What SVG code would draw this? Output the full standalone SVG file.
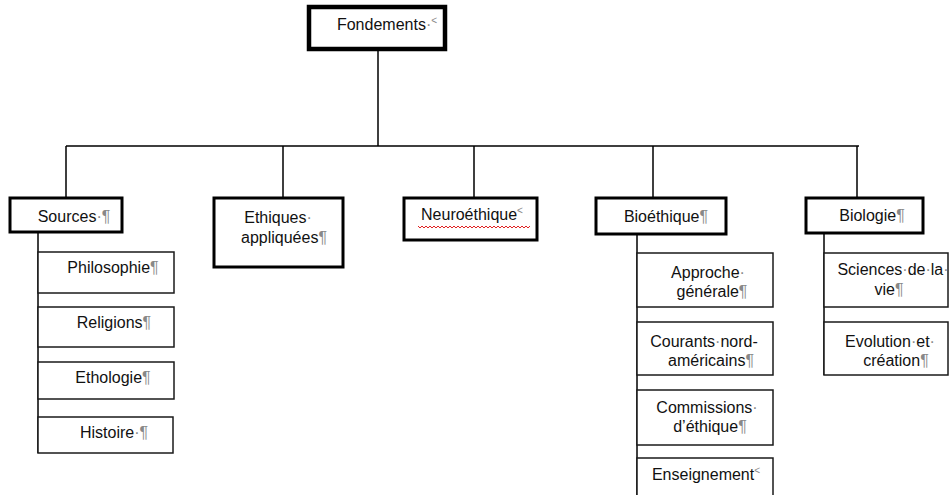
<svg xmlns="http://www.w3.org/2000/svg" width="950" height="495" viewBox="0 0 950 495">
<style>
.bg{fill:#fff}
.top{fill:#fff;stroke:#000;stroke-width:4.5}
.main{fill:#fff;stroke:#000;stroke-width:3}
.sub{fill:#fff;stroke:#1a1a1a;stroke-width:1.5}
.conn{stroke:#000;stroke-width:1.5;fill:none}
text{font-family:"Liberation Sans",Arial,sans-serif;font-size:16px;fill:#111;text-anchor:middle}
.m{fill:#888}
.sm{font-size:10px;fill:#888}
.spell{stroke:#e02020;stroke-width:1;fill:none}
</style>
<rect class="bg" x="0" y="0" width="950" height="495"/>
<g id="connectors">
<path class="conn" d="M378 50V146M66 146H859M66 146V197M283 146V197M474 146V197M653 146V197M857 146V197"/>
<path class="conn" d="M38 233V453"/>
<path class="conn" d="M637 234V495"/>
<path class="conn" d="M824 233V375"/>
</g>
<g id="fondements">
<rect class="top" x="309" y="7" width="136" height="42"/>
<text x="387" y="30">Fondements<tspan class="m">·</tspan><tspan class="sm" dy="-6">&lt;</tspan></text>
</g>
<g id="sources">
<rect class="main" x="10" y="198" width="112" height="34"/>
<text x="74" y="222">Sources<tspan class="m">·¶</tspan></text>
</g>
<g id="philosophie">
<rect class="sub" x="38" y="252" width="136" height="41"/>
<text x="113" y="273">Philosophie<tspan class="m">¶</tspan></text>
</g>
<g id="religions">
<rect class="sub" x="38" y="307" width="136" height="40"/>
<text x="114" y="328">Religions<tspan class="m">¶</tspan></text>
</g>
<g id="ethologie">
<rect class="sub" x="38" y="362" width="136" height="37"/>
<text x="113" y="383">Ethologie<tspan class="m">¶</tspan></text>
</g>
<g id="histoire">
<rect class="sub" x="38" y="417" width="135" height="36"/>
<text x="114" y="438">Histoire<tspan class="m">·¶</tspan></text>
</g>
<g id="ethiques">
<rect class="main" x="214" y="198" width="129" height="69"/>
<text x="278" y="223">Ethiques<tspan class="m">·</tspan></text>
<text x="284" y="243">appliquées<tspan class="m">¶</tspan></text>
</g>
<g id="neuroethique">
<rect class="main" x="404" y="198" width="133" height="42"/>
<text x="472" y="220">Neuroéthique<tspan class="sm" dy="-6">&lt;</tspan></text>
<path class="spell" d="M418 226l2 2l2-2l2 2l2-2l2 2l2-2l2 2l2-2l2 2l2-2l2 2l2-2l2 2l2-2l2 2l2-2l2 2l2-2l2 2l2-2l2 2l2-2l2 2l2-2l2 2l2-2l2 2l2-2l2 2l2-2l2 2l2-2l2 2l2-2l2 2l2-2l2 2l2-2l2 2l2-2l2 2l2-2l2 2l2-2l2 2l2-2l2 2l2-2l2 2l2-2l2 2l2-2l2 2l2-2l2 2l2-2"/>
</g>
<g id="bioethique">
<rect class="main" x="596" y="198" width="130" height="36"/>
<text x="666" y="222">Bioéthique<tspan class="m">¶</tspan></text>
</g>
<g id="approche">
<rect class="sub" x="637" y="253" width="136" height="54"/>
<text x="708" y="278">Approche<tspan class="m">·</tspan></text>
<text x="712" y="297">générale<tspan class="m">¶</tspan></text>
</g>
<g id="courants">
<rect class="sub" x="637" y="322" width="136" height="53"/>
<text x="704" y="347">Courants<tspan class="m">·</tspan>nord-</text>
<text x="711" y="366">américains<tspan class="m">¶</tspan></text>
</g>
<g id="commissions">
<rect class="sub" x="637" y="390" width="136" height="55"/>
<text x="707" y="413">Commissions<tspan class="m">·</tspan></text>
<text x="710" y="432">d’éthique<tspan class="m">¶</tspan></text>
</g>
<g id="enseignement">
<rect class="sub" x="637" y="458" width="136" height="45"/>
<text x="706" y="480">Enseignement<tspan class="sm" dy="-6">&lt;</tspan></text>
</g>
<g id="biologie">
<rect class="main" x="806" y="198" width="117" height="35"/>
<text x="872" y="221">Biologie<tspan class="m">¶</tspan></text>
</g>
<g id="sciences">
<rect class="sub" x="824" y="253" width="124" height="54"/>
<text x="893" y="275">Sciences<tspan class="m">·</tspan>de<tspan class="m">·</tspan>la<tspan class="m">·</tspan></text>
<text x="889" y="295">vie<tspan class="m">¶</tspan></text>
</g>
<g id="evolution">
<rect class="sub" x="824" y="322" width="124" height="53"/>
<text x="890" y="347">Evolution<tspan class="m">·</tspan>et<tspan class="m">·</tspan></text>
<text x="896" y="366">création<tspan class="m">¶</tspan></text>
</g>
</svg>
